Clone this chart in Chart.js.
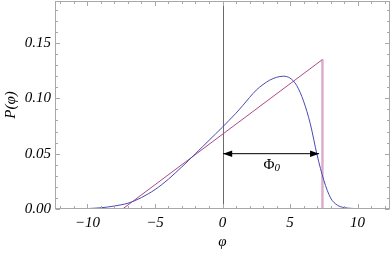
<!DOCTYPE html>
<html><head><meta charset="utf-8">
<script src="https://cdn.jsdelivr.net/npm/chart.js@4"></script>
<style>html,body{margin:0;padding:0;background:#fff}canvas{display:block}</style>
</head><body>
<canvas id="c" width="392" height="253"></canvas>
<script>
// ---- data ----
const blueX = [-12.4,-12,-11.5,-11,-10.5,-10,-9.5,-9,-8.5,-8,-7.5,-7,-6.5,-6,-5.5,-5,-4.5,-4,-3.5,-3,-2.5,-2,-1.5,-1,-0.5,0,0.5,1,1.5,2,2.5,3,3.5,4,4.5,5,5.5,6,6.5,7,7.5,8,8.5,9,9.5,10,11,12.4];
const blueY = [0,0,0.0001,0.0001,0.0002,0.0004,0.0007,0.0011,0.0018,0.0027,0.0038,0.0052,0.0075,0.0103,0.0137,0.0175,0.0220,0.0270,0.0325,0.0382,0.0440,0.0500,0.0560,0.0620,0.0680,0.0740,0.0803,0.0866,0.0935,0.1008,0.1075,0.1125,0.1165,0.1190,0.1200,0.1183,0.1115,0.0975,0.0770,0.0490,0.0260,0.0100,0.0035,0.0013,0.0006,0.0003,0.0001,0];
const triX = [-7.4, 7.4];
const triY = [0, 0.1351];
const dropX = [7.4, 7.4];
const dropY = [0.1351, 0];
const arrowX = [0.05, 7.15];
const arrowY = [0.05, 0.05];
const labelPos = [3.78, 0.040];
const xTicks = [-10, -5, 0, 5, 10];
const yTicks = [0, 0.05, 0.10, 0.15];
const xMinorStep = 1;
const yMinorStep = 0.01;
const xRange = [-12.4, 12.4];
const yRange = [0, 0.188];

const pts = (xs, ys) => xs.map((v, i) => ({x: v, y: ys[i]}));
const SERIF = "'Liberation Serif', 'DejaVu Serif', serif";

const framePlugin = {
  id: 'frame',
  beforeDatasetsDraw(chart) {
    const {ctx, chartArea: a, scales: {x}} = chart;
    const px = Math.round(x.getPixelForValue(0)) + 0.5;
    ctx.save();
    ctx.strokeStyle = '#6a6a6a';
    ctx.lineWidth = 1;
    ctx.beginPath(); ctx.moveTo(px, a.top); ctx.lineTo(px, a.bottom); ctx.stroke();
    ctx.restore();
  },
  afterDatasetsDraw(chart) {
    const {ctx, chartArea: a, scales: {x, y}} = chart;
    ctx.save();
    // arrowheads
    const ay = y.getPixelForValue(arrowY[0]);
    const l = x.getPixelForValue(arrowX[0]);
    const r = x.getPixelForValue(arrowX[1]);
    ctx.fillStyle = '#000';
    ctx.beginPath(); ctx.moveTo(l, ay); ctx.lineTo(l + 9, ay - 3.2); ctx.lineTo(l + 9, ay + 3.2); ctx.closePath(); ctx.fill();
    ctx.beginPath(); ctx.moveTo(r, ay); ctx.lineTo(r - 9, ay - 3.2); ctx.lineTo(r - 9, ay + 3.2); ctx.closePath(); ctx.fill();
    // label
    const lx = x.getPixelForValue(labelPos[0]);
    const ly = y.getPixelForValue(labelPos[1]);
    ctx.fillStyle = '#000';
    ctx.textBaseline = 'middle';
    ctx.font = "15px " + SERIF;
    ctx.textAlign = 'right';
    ctx.fillText('Φ', lx + 1, ly);
    ctx.textAlign = 'left';
    ctx.font = "italic 11px " + SERIF;
    ctx.fillText('0', lx + 1, ly + 3);
    // frame
    ctx.strokeStyle = '#a8a8a8';
    ctx.lineWidth = 1;
    const L = Math.round(a.left) + 0.5, R = Math.round(a.right) - 0.5, T = Math.round(a.top) + 0.5, B = Math.round(a.bottom) - 0.5;
    ctx.strokeRect(L, T, R - L, B - T);
    ctx.beginPath();
    const isMajor = (v, arr) => arr.some(t => Math.abs(t - v) < 1e-9);
    for (let v = Math.ceil(xRange[0] / xMinorStep) * xMinorStep; v <= xRange[1] + 1e-9; v += xMinorStep) {
      const p = Math.round(x.getPixelForValue(v)) + 0.5;
      const len = isMajor(v, xTicks) ? 4.5 : 2.5;
      ctx.moveTo(p, B); ctx.lineTo(p, B - len);
      ctx.moveTo(p, T); ctx.lineTo(p, T + len);
    }
    for (let k = 0; k * yMinorStep <= yRange[1] + 1e-9; k++) {
      const v = k * yMinorStep;
      const p = Math.round(y.getPixelForValue(v)) + 0.5;
      const len = isMajor(Math.round(v * 1000) / 1000, yTicks) ? 4.5 : 2.5;
      ctx.moveTo(L, p); ctx.lineTo(L + len, p);
      ctx.moveTo(R, p); ctx.lineTo(R - len, p);
    }
    ctx.stroke();
    ctx.restore();
  }
};

new Chart(document.getElementById('c'), {
  type: 'scatter',
  data: {
    datasets: [
      {data: pts(blueX, blueY), showLine: true, borderColor: 'rgb(72,72,180)', borderWidth: 1, pointRadius: 0, cubicInterpolationMode: 'monotone'},
      {data: pts(triX, triY), showLine: true, borderColor: 'rgb(172,72,132)', borderWidth: 1, pointRadius: 0},
      {data: pts(dropX, dropY), showLine: true, borderColor: 'rgba(190,110,160,0.55)', borderWidth: 2.5, pointRadius: 0},
      {data: pts(arrowX, arrowY), showLine: true, borderColor: '#000', borderWidth: 1, pointRadius: 0}
    ]
  },
  options: {
    responsive: false, devicePixelRatio: 1, animation: false,
    layout: {padding: {top: 1, right: 2, left: 0, bottom: 0}},
    plugins: {legend: {display: false}, tooltip: {enabled: false}},
    scales: {
      x: {
        type: 'linear', min: xRange[0], max: xRange[1],
        grid: {display: false, drawTicks: false}, border: {display: false},
        afterBuildTicks: s => { s.ticks = xTicks.map(v => ({value: v})); },
        afterFit: s => { s.height = 44; s.paddingLeft = 0; s.paddingRight = 0; },
        ticks: {padding: 5, color: '#000', font: {family: SERIF, size: 15, style: 'italic'},
          callback: v => String(v).replace('-', '\u2212'), maxRotation: 0},
        title: {display: true, text: 'φ', color: '#000', font: {family: SERIF, size: 15, style: 'italic'}, padding: {top: 0, bottom: 2}}
      },
      y: {
        type: 'linear', min: yRange[0], max: yRange[1],
        grid: {display: false, drawTicks: false}, border: {display: false},
        afterBuildTicks: s => { s.ticks = yTicks.map(v => ({value: v})); },
        afterFit: s => { s.width = 55; s.paddingTop = 0; s.paddingBottom = 0; },
        ticks: {padding: 4, color: '#000', font: {family: SERIF, size: 15, style: 'italic'},
          callback: v => Number(v).toFixed(2)},
        title: {display: true, text: 'P(φ)', color: '#000', font: {family: SERIF, size: 15, style: 'italic'}, padding: {top: 2, bottom: 0}}
      }
    }
  },
  plugins: [framePlugin]
});
</script>
</body></html>
